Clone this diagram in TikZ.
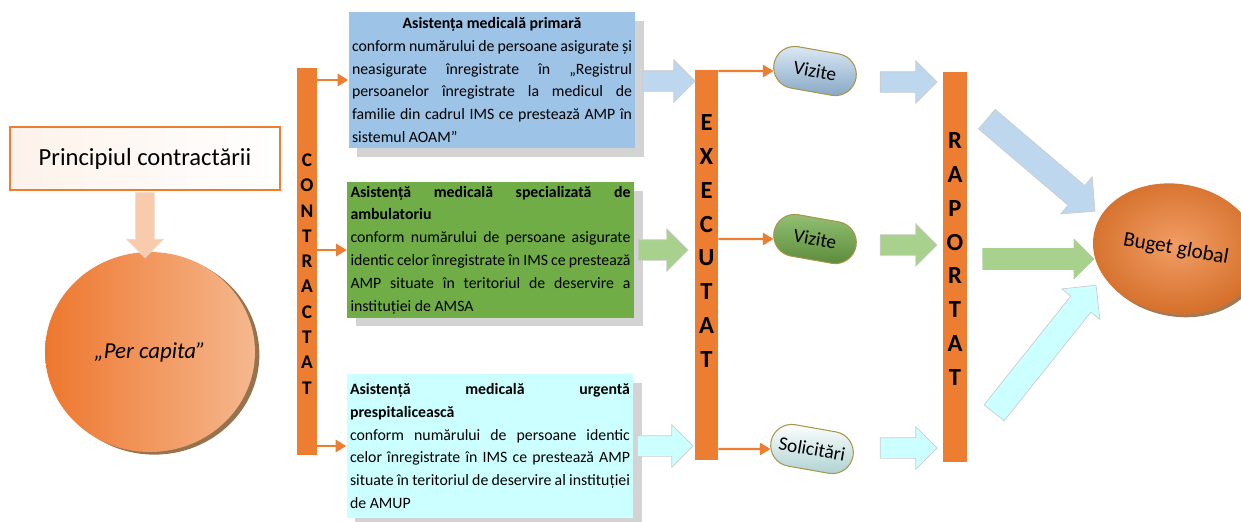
\documentclass[tikz,border=0pt]{standalone}
\usepackage{fontspec}
\setmainfont{Carlito}
\usepackage{tikz}
\usetikzlibrary{arrows.meta,positioning,calc,shapes,shadows}
\definecolor{ornge}{HTML}{ED7D31}
\definecolor{boxblue}{HTML}{9DC3E6}
\definecolor{boxgreen}{HTML}{70AD47}
\definecolor{boxcyan}{HTML}{CCFFFF}
\definecolor{arrblue}{HTML}{BDD7EE}
\definecolor{arrgreen}{HTML}{A9D18E}
\definecolor{peach}{HTML}{F8CBAD}
\tikzstyle{bar}=[rectangle, fill=ornge, inner sep=0pt]
\tikzstyle{fatarrow}=[single arrow, draw=black!20, line width=0.4pt, inner xsep=0pt, inner ysep=0.2cm, single arrow head extend=0.22cm]

\begin{document}
\begin{tikzpicture}[x=0.02cm,y=-0.02cm,
  infobox/.style={rectangle, inner xsep=0.07cm, inner ysep=2pt, text width=5.6cm, align=justify, font=\fontsize{9}{13}\selectfont, drop shadow={shadow xshift=5pt,shadow yshift=-5pt,opacity=.35}},
  pill/.style={rounded rectangle, draw=black!45!yellow!70!brown, line width=0.6pt, minimum width=1.9cm, minimum height=0.84cm, rotate=-10, font=\fontsize{11}{13}\selectfont},
  letters/.style={align=center, inner sep=0pt},
  conn/.style={draw=ornge, line width=1.2pt, -{Triangle[length=6pt,width=7pt]}}]
\useasboundingbox (0,0) rectangle (1241,521);

% left part
\node (princ) at (145,158.5) [rectangle, draw=ornge, line width=0.6pt, left color=ornge!10, right color=white, minimum width=5.4cm, minimum height=1.26cm, font=\fontsize{14}{16}\selectfont] {Principiul contractării};
\node (percap) at (150,352) [ellipse, minimum width=4.2cm, minimum height=4cm, left color=ornge!95!red, right color=ornge!55, drop shadow={shadow xshift=2.5pt,shadow yshift=-1.5pt,fill=brown!70!black,opacity=.85}, font=\fontsize{13}{15}\selectfont\itshape] {„Per capita”};
\node at (145,220.5) [fatarrow, fill=peach, draw=peach!80!black!40, rotate=-90, minimum height=1.3cm, inner ysep=0.18cm, single arrow head extend=0.18cm] {};

% bars
\node (contr) at (307,261.5) [bar, minimum width=0.4cm, minimum height=7.74cm] {};
\node (contrtxt) at (307,274) [letters, font=\fontsize{11}{14.4}\selectfont\bfseries] {C\\O\\N\\T\\R\\A\\C\\T\\A\\T};
\node (exec) at (706.5,265) [bar, minimum width=0.46cm, minimum height=7.8cm] {};
\node (exectxt) at (706.5,241) [letters, font=\fontsize{14}{19.3}\selectfont\bfseries] {E\\X\\E\\C\\U\\T\\A\\T};
\node (rap) at (955,267) [bar, minimum width=0.48cm, minimum height=7.8cm] {};
\node (raptxt) at (955,259) [letters, font=\fontsize{14}{19.3}\selectfont\bfseries] {R\\A\\P\\O\\R\\T\\A\\T};

% boxes
\node (b1) at (492,80) [infobox, fill=boxblue, minimum height=2.72cm] {{\centering\bfseries Asistența medicală primară\par}
conform numărului de persoane asigurate și\linebreak neasigurate înregistrate în „Registrul\linebreak persoanelor înregistrate la medicul de\linebreak familie din cadrul IMS ce prestează AMP în\linebreak sistemul AOAM”};
\node (b2) at (490.5,250) [infobox, fill=boxgreen, minimum height=2.64cm] {\textbf{Asistență medicală specializată de\linebreak ambulatoriu}\\
conform numărului de persoane asigurate\linebreak identic celor înregistrate în IMS ce prestează\linebreak AMP situate în teritoriul de deservire a\linebreak instituției de AMSA};
\node (b3) at (490,446) [infobox, fill=boxcyan, minimum height=2.88cm] {\textbf{Asistență medicală urgentă\linebreak prespitalicească}\\
conform numărului de persoane identic\linebreak celor înregistrate în IMS ce prestează AMP\linebreak situate în teritoriul de deservire al instituției\linebreak de AMUP};

% pills
\node (v1) at (815,71) [pill, top color=boxblue!35, bottom color=boxblue!85!black] {Vizite};
\node (v2) at (815,239) [pill, top color=boxgreen!75, bottom color=boxgreen!80!black] {Vizite};
\node (sol) at (812,449) [pill, top color=white, bottom color=boxcyan!80!black!90] {Solicitări};

\node (bug) at (1176,249) [ellipse, rotate=-10, minimum width=3cm, minimum height=2.6cm, inner color=ornge!75, outer color=ornge!90!black, drop shadow={shadow xshift=1.5pt,shadow yshift=-1.5pt,fill=brown!70!black,opacity=.8}, font=\fontsize{12}{14}\selectfont] {Buget global};

% thin connectors
\draw[conn] (b1 -| contr.east) -- (b1);
\draw[conn] (b2 -| contr.east) -- (b2);
\draw[conn] (b3 -| contr.east) -- (b3);
\draw[conn] (v1.center -| exec.east) -- (v1);
\draw[conn] (v2.center -| exec.east) -- (v2);
\draw[conn] (sol.center -| exec.east) -- (sol);

% block arrows
\node at (663.5,81) [fatarrow, fill=arrblue, minimum height=1.06cm] {};
\node at (658,250) [fatarrow, fill=arrgreen, minimum height=1.0cm] {};
\node at (660,446) [fatarrow, fill=boxcyan, minimum height=1.12cm] {};
\node at (903.5,82) [fatarrow, fill=arrblue, minimum height=1.14cm] {};
\node at (903.5,245) [fatarrow, fill=arrgreen, minimum height=1.14cm] {};
\node at (903.5,448) [fatarrow, fill=boxcyan, minimum height=1.14cm] {};
\node at (1036,161) [fatarrow, fill=arrblue, rotate=-40.4, minimum height=2.84cm, inner ysep=0.25cm, single arrow head extend=0.23cm] {};
\node at (1033,259) [fatarrow, fill=arrgreen, draw=none, minimum height=2.24cm, inner ysep=0.21cm, single arrow head extend=0.2cm] {};
\node at (1041,354) [fatarrow, fill=boxcyan, rotate=51.4, minimum height=3.27cm, inner ysep=0.25cm, single arrow head extend=0.23cm] {};
\end{tikzpicture}
\end{document}
